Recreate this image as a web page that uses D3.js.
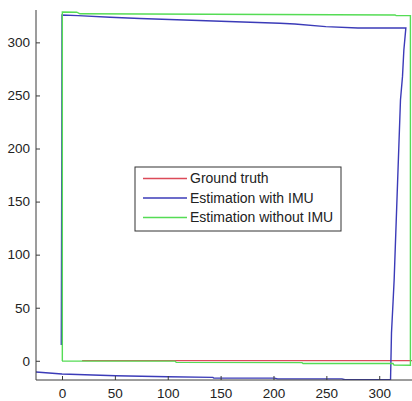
<!DOCTYPE html>
<html lang="en">
<head>
<meta charset="utf-8">
<title>Trajectory estimation</title>
<style>
    body { margin: 0; background: #fff; }
    svg { display: block; font-family: "Liberation Sans", Arial, sans-serif; }
    .axis path, .axis line { stroke: #3a3a3a; }
    .axis text { fill: #222; font-size: 13.5px; }
</style>
</head>
<body>
<svg id="chart" width="412" height="401"></svg>
<script src="https://cdn.jsdelivr.net/npm/d3@7"></script>
<script>
// data (x, y in plot units)
var groundTruth = [[19, 0.2], [345, 0.2]];

var withImu = [
    [-40, -9.5], [-24.6, -10.6], [0, -12.5], [50.8, -14.1], [100, -15.1],
    [142.7, -15.6], [143.5, -16.2], [201, -16.3], [204, -17], [264.7, -17],
    [267.5, -17.9], [310.7, -17.9], [311.6, 26.1], [313.1, 55.6], [314.1, 76],
    [320.1, 245.7], [322, 267.7], [323.3, 292.8], [325.2, 313.6],
    [279.8, 313.6], [249.5, 314.8], [220.2, 317.3], [206, 318], [73.7, 322.5],
    [45.4, 323.7], [15.1, 325.2], [0, 325.8], [-0.2, 200], [-0.6, 45], [-0.7, 14.8]
];

var withoutImu = [
    [0, -0.2], [107, -0.3], [108, -1.5], [227, -1.7], [228, -2.5], [313, -2.6],
    [314, -4], [329.5, -4.2], [329.5, 325.2], [316, 325.2], [315, 325.8],
    [200, 326.3], [17, 326.9], [14, 328.4], [0.3, 328.6], [0.3, -0.2]
];

var series = [
    {name: "Ground truth", color: "#dc4a58", points: groundTruth},
    {name: "Estimation with IMU", color: "#3b3bb8", points: withImu},
    {name: "Estimation without IMU", color: "#55dc55", points: withoutImu}
];

var xTicks = [0, 50, 100, 150, 200, 250, 300];
var yTicks = [0, 50, 100, 150, 200, 250, 300];

var plotLeft = 36, plotRight = 412, plotTop = 10, plotBottom = 380;

var svg = d3.select("#chart");

var x = d3.scaleLinear().domain([-24.6, 331]).range([plotLeft, plotRight]);
var y = d3.scaleLinear().domain([-18.1, 330.5]).range([plotBottom, plotTop]);

svg.append("clipPath").attr("id", "plotClip")
    .append("rect")
    .attr("x", plotLeft).attr("y", plotTop)
    .attr("width", plotRight - plotLeft).attr("height", plotBottom - plotTop);

var line = d3.line().x(d => x(d[0])).y(d => y(d[1]));

svg.append("g").attr("clip-path", "url(#plotClip)")
    .selectAll("path")
    .data(series)
    .enter().append("path")
    .attr("d", d => line(d.points))
    .attr("fill", "none")
    .attr("stroke", d => d.color)
    .attr("stroke-width", 1.4);

// axes, ticks pointing inward like matlab
var xAxis = svg.append("g")
    .attr("class", "axis")
    .attr("transform", "translate(0," + plotBottom + ")")
    .call(d3.axisBottom(x).tickValues(xTicks).tickSizeInner(-4).tickSizeOuter(0).tickPadding(8));
xAxis.select(".domain").attr("d", "M" + plotLeft + ",0H" + plotRight);

var yAxis = svg.append("g")
    .attr("class", "axis")
    .attr("transform", "translate(" + plotLeft + ",0)")
    .call(d3.axisLeft(y).tickValues(yTicks).tickSizeInner(-4).tickSizeOuter(0).tickPadding(6));
yAxis.select(".domain").attr("d", "M0," + plotTop + "V" + plotBottom);

// legend
var legend = svg.append("g").attr("transform", "translate(135,167)");
legend.append("rect")
    .attr("width", 206).attr("height", 64)
    .attr("fill", "#fff").attr("stroke", "#333").attr("stroke-width", 1);

var rows = legend.selectAll(".row")
    .data(series)
    .enter().append("g")
    .attr("class", "row")
    .attr("transform", (d, i) => "translate(0," + (11.5 + i * 19.5) + ")");
rows.append("line")
    .attr("x1", 8).attr("x2", 52)
    .attr("stroke", d => d.color).attr("stroke-width", 1.4);
rows.append("text")
    .attr("x", 55).attr("dy", "0.35em")
    .attr("font-size", "14px").attr("fill", "#222")
    .text(d => d.name);
</script>
</body>
</html>
